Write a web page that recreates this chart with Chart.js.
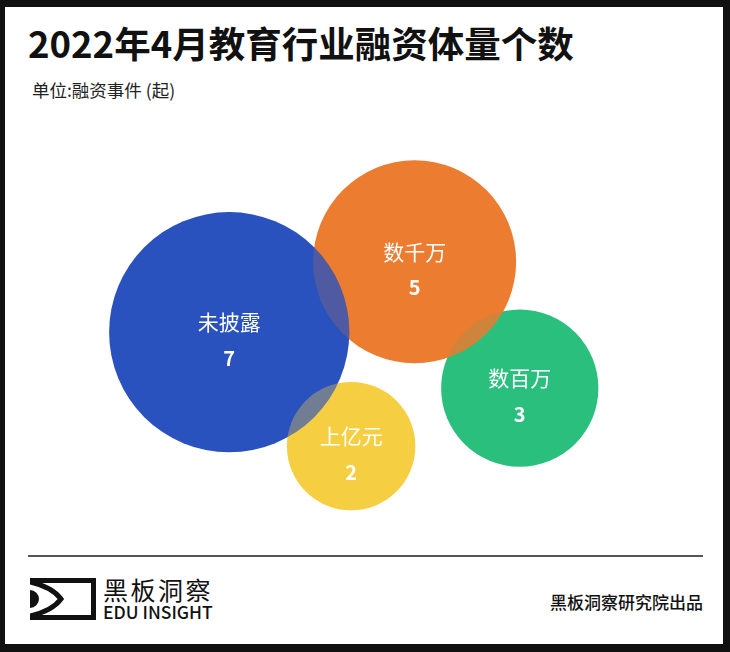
<!DOCTYPE html>
<html>
<head>
<meta charset="utf-8">
<script src="https://cdn.jsdelivr.net/npm/chart.js@4.4.1/dist/chart.umd.min.js"></script>
<style>
  html, body { margin: 0; padding: 0; }
  body { width: 730px; height: 652px; background: #111; position: relative; overflow: hidden; font-family: "Noto Sans CJK SC", "Noto Sans", sans-serif; }
  .card { position: absolute; left: 5px; top: 7px; width: 718px; height: 637px; background: #fff; }
  .title { position: absolute; left: 28px; top: 25px; font-size: 36.5px; font-weight: 700; line-height: 1; color: #111; white-space: nowrap; }
  .unit { position: absolute; left: 32px; top: 81px; font-size: 17.5px; line-height: 1; color: #222; white-space: nowrap; }
  .chart-box { position: absolute; left: 0; top: 110px; width: 730px; height: 440px; }
  .rule { position: absolute; left: 28px; top: 555px; width: 675px; height: 2px; background: #555; }
  .logo { position: absolute; left: 30px; top: 578px; }
  .brand { position: absolute; left: 103px; top: 577px; font-size: 25px; letter-spacing: 2.5px; line-height: 1; color: #111; white-space: nowrap; }
  .brand-en { position: absolute; left: 103px; top: 603px; font-size: 17.5px; font-weight: 500; line-height: 1; color: #111; white-space: nowrap; }
  .source { position: absolute; right: 27px; top: 593px; font-size: 17px; font-weight: 500; line-height: 1; color: #111; white-space: nowrap; }
</style>
</head>
<body>
<div class="card"></div>
<div class="title">2022年4月教育行业融资体量个数</div>
<div class="unit">单位:融资事件 (起)</div>
<div class="chart-box"><canvas id="bubbleChart"></canvas></div>
<div class="rule"></div>
<svg class="logo" width="66" height="42" viewBox="0 0 66 42">
  <rect x="0" y="0" width="66" height="5" fill="#111"/>
  <rect x="0" y="37" width="66" height="5" fill="#111"/>
  <rect x="61" y="0" width="5" height="42" fill="#111"/>
  <path d="M0,4 Q22,9 31,21 Q22,33 0,38" stroke="#111" stroke-width="5" fill="none"/>
  <path d="M0,12 A9,9 0 0 1 0,30 Z" fill="#111"/>
</svg>
<div class="brand">黑板洞察</div>
<div class="brand-en">EDU INSIGHT</div>
<div class="source">黑板洞察研究院出品</div>

<script>
// funding size buckets and number of deals (April 2022)
const categories = ["未披露", "数千万", "数百万", "上亿元"];
const dealCounts = [7, 5, 3, 2];
// bubble placement in a 0-100 layout space
const posX = [31.4, 56.8, 71.2, 48.1];
const posY = [49.5, 65.5, 36.8, 23.6];
const colors = ["#2a52be", "#ec7c30", "#2bbf7e", "#f6ce41"];
// which bubbles sit on top (higher = on top)
const zOrder = [3, 2, 1, 0];
// how much a lower bubble shows through where it is covered
const showThrough = [0.2, 0.2, 0.15, 0.35];

const radiusPerSqrt = 45.4; // bubble area ~ count

document.addEventListener("DOMContentLoaded", () => {
  const ctx = document.getElementById("bubbleChart");

  const points = categories.map((c, i) => ({
    x: posX[i],
    y: posY[i],
    r: radiusPerSqrt * Math.sqrt(dealCounts[i]),
    label: c,
    value: dealCounts[i]
  }));

  // draw lower bubbles first
  const drawOrder = categories.map((c, i) => i).sort((a, b) => zOrder[a] - zOrder[b]);

  const hexToRgba = (hex, a) => {
    const n = parseInt(hex.slice(1), 16);
    return `rgba(${(n >> 16) & 255}, ${(n >> 8) & 255}, ${n & 255}, ${a})`;
  };

  // tint where two bubbles overlap, then write labels
  const bubbleText = {
    id: "bubbleText",
    afterDatasetsDraw(chart) {
      const c = chart.ctx;
      const els = chart.getDatasetMeta(0).data;
      const idx = drawOrder;
      for (let a = 0; a < idx.length; a++) {
        for (let b = a + 1; b < idx.length; b++) {
          const lo = els[a], hi = els[b];
          const d = Math.hypot(lo.x - hi.x, lo.y - hi.y);
          if (d >= lo.options.radius + hi.options.radius) continue;
          c.save();
          c.beginPath();
          c.arc(lo.x, lo.y, lo.options.radius, 0, Math.PI * 2);
          c.clip();
          c.beginPath();
          c.arc(hi.x, hi.y, hi.options.radius, 0, Math.PI * 2);
          c.fillStyle = hexToRgba(colors[idx[a]], showThrough[idx[a]]);
          c.fill();
          c.restore();
        }
      }
      c.save();
      c.fillStyle = "#fff";
      c.textAlign = "center";
      c.textBaseline = "middle";
      els.forEach((el, k) => {
        const p = chart.data.datasets[0].data[k];
        c.font = '400 21px "Noto Sans CJK SC"';
        c.fillText(p.label, el.x, el.y - 10);
        c.font = '700 20px "Noto Sans CJK SC"';
        c.fillText(String(p.value), el.x, el.y + 26);
      });
      c.restore();
    }
  };

  new Chart(ctx, {
    type: "bubble",
    data: {
      datasets: [{
        data: drawOrder.map(i => points[i]),
        backgroundColor: drawOrder.map(i => colors[i]),
        borderWidth: 0,
        hoverBorderWidth: 0,
        clip: false
      }]
    },
    options: {
      responsive: true,
      maintainAspectRatio: false,
      devicePixelRatio: 1,
      animation: false,
      events: [],
      layout: { padding: 0, autoPadding: false },
      plugins: {
        legend: { display: false },
        title: { display: false },
        tooltip: { enabled: false }
      },
      scales: {
        x: { type: "linear", min: 0, max: 100, display: false },
        y: { type: "linear", min: 0, max: 100, display: false }
      }
    },
    plugins: [bubbleText]
  });
});
</script>
</body>
</html>
